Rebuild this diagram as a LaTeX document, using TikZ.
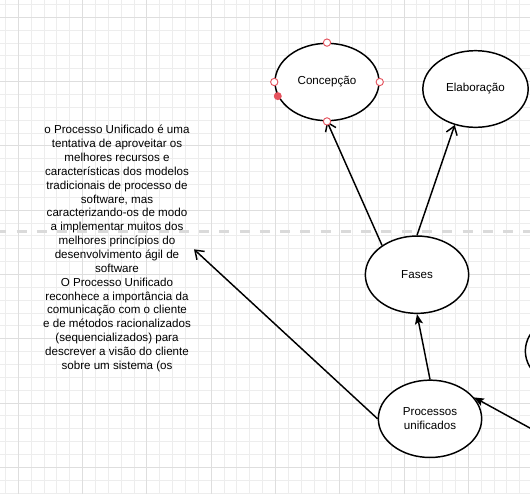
\documentclass[tikz,border=0pt]{standalone}
\usepackage{fontspec}
\setmainfont{Liberation Sans}
\usetikzlibrary{shapes.geometric,arrows.meta}
\definecolor{gridminor}{HTML}{EDEDED}
\definecolor{gridmajor}{HTML}{DEDEDE}
\definecolor{guide}{HTML}{DADADA}
\definecolor{selred}{HTML}{E5535E}
\begin{document}
\begin{tikzpicture}[x=0.75pt,y=-0.75pt,
  bubble/.style={ellipse,draw=black,line width=1.1pt,fill=white,minimum width=77.5pt,minimum height=58pt,inner sep=0pt,align=center,font=\fontsize{8.7}{10.4}\selectfont},
  link/.style={line width=1.1pt,draw=black},
  openarrow/.style={link,-{Straight Barb[length=6pt,width=8.5pt]}},
  solidarrow/.style={link,-{Stealth[length=7.5pt,width=6pt,inset=1.5pt]}},
  handle/.style={circle,draw=selred,fill=white,line width=0.7pt,minimum size=5.5pt,inner sep=0pt},
  handlefull/.style={circle,fill=selred,minimum size=6pt,inner sep=0pt},
  note/.style={align=center,font=\fontsize{8.7}{10.4}\selectfont,inner sep=0pt},
  minorline/.style={draw=gridminor,line width=0.75pt},
  majorline/.style={draw=gridmajor,line width=0.75pt}]
\useasboundingbox (0,0) rectangle (530,494);
\clip (0,0) rectangle (530,494);
\fill[white] (0,0) rectangle (530,494);
% grid
\foreach \i in {0,...,41} \draw[minorline] ({5.44+12.86*\i},0) -- ({5.44+12.86*\i},494);
\foreach \j in {0,...,38} \draw[minorline] (0,{4.44+12.86*\j}) -- (530,{4.44+12.86*\j});
\foreach \i in {0,...,8} \draw[majorline] ({18.3+64.3*\i},0) -- ({18.3+64.3*\i},494);
\foreach \j in {0,...,7} \draw[majorline] (0,{17.3+64.3*\j}) -- (530,{17.3+64.3*\j});
% guide line
\draw[guide,line width=2.25pt,dash pattern=on 7.5pt off 7.7pt] (-3.6,231.7) -- (540,231.7);

% nodes
\node[bubble,minimum width=78pt] (conc) at (327,82) {Concepção};
\node[bubble,minimum width=79pt,minimum height=57.5pt] (elab) at (475.5,89) {Elaboração};
\node[bubble] (fases) at (417,274.7) {Fases};
\node[bubble] (proc) at (430,418.8) {Processos\\unificados};
\node[bubble] (offnode) at (577,351) {};
\node[note] (desc) at (117,248.5) {o Processo Unificado é uma\\tentativa de aproveitar os\\melhores recursos e\\características dos modelos\\tradicionais de processo de\\software, mas\\caracterizando-os de modo\\a implementar muitos dos\\melhores princípios do\\desenvolvimento ágil de\\software\\O Processo Unificado\\reconhece a importância da\\comunicação com o cliente\\e de métodos racionalizados\\(sequencializados) para\\descrever a visão do cliente\\sobre um sistema (os};
\coordinate (desctip) at (194,249.3);
\coordinate (offsrc) at (560,444.5);

% connectors
\draw[openarrow] (fases.140) -- (conc.south);
\draw[openarrow] (fases.north) -- (elab.240);
\draw[solidarrow] (proc.north) -- (fases.south);
\draw[solidarrow] (offsrc) -- (proc.26);
\draw[openarrow] (proc.west) -- (desctip);

% selection handles
\node[handle] (hn) at (conc.north) {};
\node[handle] (hs) at (conc.south) {};
\node[handle] (he) at (conc.east) {};
\node[handle] (hw) at (conc.west) {};
\node[handlefull] (hf) at (conc.196) {};
\end{tikzpicture}
\end{document}
